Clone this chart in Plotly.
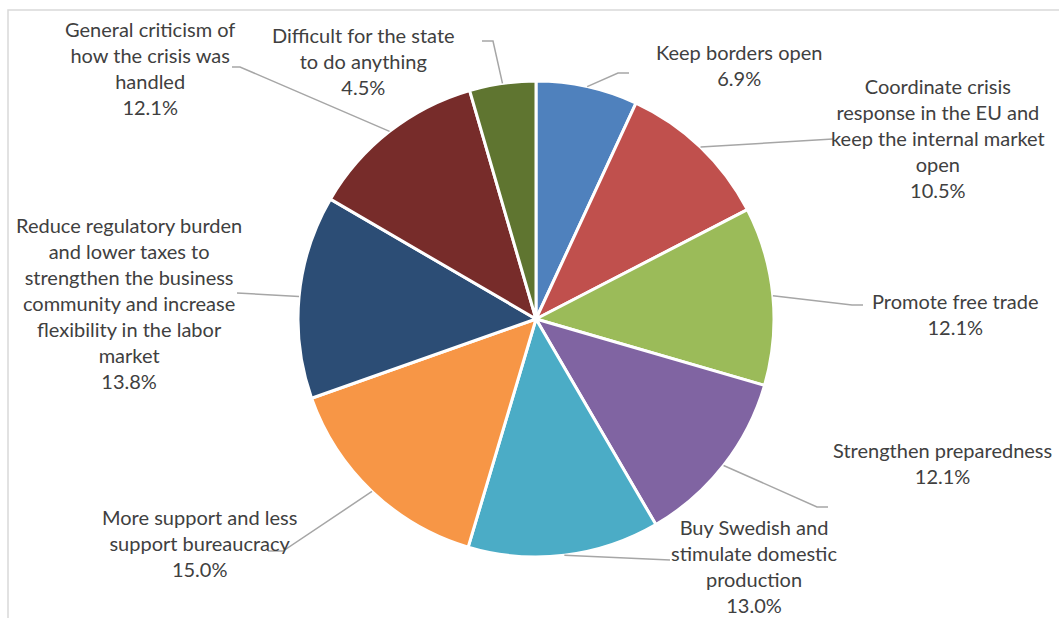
import plotly.graph_objects as go
import math

# ---- data -------------------------------------------------------------
categories = [
    "Keep borders open",
    "Coordinate crisis<br>response in the EU and<br>keep the internal market<br>open",
    "Promote free trade",
    "Strengthen preparedness",
    "Buy Swedish and<br>stimulate domestic<br>production",
    "More support and less<br>support bureaucracy",
    "Reduce regulatory burden<br>and lower taxes to<br>strengthen the business<br>community and increase<br>flexibility in the labor<br>market",
    "General criticism of<br>how the crisis was<br>handled",
    "Difficult for the state<br>to do anything",
]
shares = [6.9, 10.5, 12.1, 12.1, 13.0, 15.0, 13.8, 12.1, 4.5]
colors = ["#4F81BD", "#C0504D", "#9BBB59", "#8064A2", "#4BACC6",
          "#F79646", "#2C4D75", "#772C2A", "#5F7530"]

# ---- canvas geometry (pixels) ----------------------------------------
W, H = 1059, 618
CX, CY, R = 536, 319, 238

# label block centres and leader-line routing (elbow, end) per slice
label_pos = [(739, 65), (938, 138), (955, 314), (942, 463), (754, 566),
             (199, 543), (129, 303), (150, 68), (363, 61)]
leader_route = [
    [(618, 73), (629, 73)],
    [(833, 139)],
    [(852, 305), (863, 305)],
    [(817, 507), (828, 507)],
    [(670, 560)],
    [(283, 551), (268, 551)],
    [(237, 293)],
    [(240, 67), (232, 67)],
    [(493, 41), (482, 41)],
]


def px(x):
    return x / W


def py(y):
    return 1 - y / H


fig = go.Figure()
fig.add_trace(go.Pie(
    labels=[c.replace("<br>", " ") for c in categories],
    values=shares,
    sort=False,
    direction="clockwise",
    rotation=0,
    marker=dict(colors=colors, line=dict(color="white", width=3)),
    textinfo="none",
    hovertemplate="%{label}: %{value:.1f}%<extra></extra>",
    showlegend=False,
    domain=dict(x=[px(CX - R), px(CX + R)], y=[py(CY + R), py(CY - R)]),
))

# leader lines start at the outer edge of each slice's mid-angle
total = sum(shares)
shapes = []
cum = 0.0
for i, v in enumerate(shares):
    mid = (cum + v / 2) / total * 2 * math.pi
    cum += v
    sx = CX + R * math.sin(mid)
    sy = CY - R * math.cos(mid)
    pts = [(sx, sy)] + leader_route[i]
    path = "M " + " L ".join(f"{px(x):.5f},{py(y):.5f}" for x, y in pts)
    shapes.append(dict(type="path", path=path, xref="paper", yref="paper",
                       line=dict(color="#A6A6A6", width=1.5), layer="above"))

# chart-area frame (runs off the right and bottom edges)
shapes.append(dict(type="rect", xref="paper", yref="paper",
                   x0=px(8), y0=py(10), x1=px(W + 20), y1=py(H + 20),
                   line=dict(color="#D9D9D9", width=1.5), layer="below"))

annotations = []
for i, (lbl, v) in enumerate(zip(categories, shares)):
    x, y = label_pos[i]
    annotations.append(dict(
        x=px(x), y=py(y), xref="paper", yref="paper",
        text=f"{lbl}<br>{v:.1f}%", showarrow=False,
        xanchor="center", yanchor="middle", align="center",
        font=dict(family="Lato, 'Open Sans', sans-serif", size=20, color="#404040"),
    ))

fig.update_layout(
    width=W, height=H,
    margin=dict(l=0, r=0, t=0, b=0),
    paper_bgcolor="white", plot_bgcolor="white",
    shapes=shapes, annotations=annotations,
)

fig.write_html("out.html")
